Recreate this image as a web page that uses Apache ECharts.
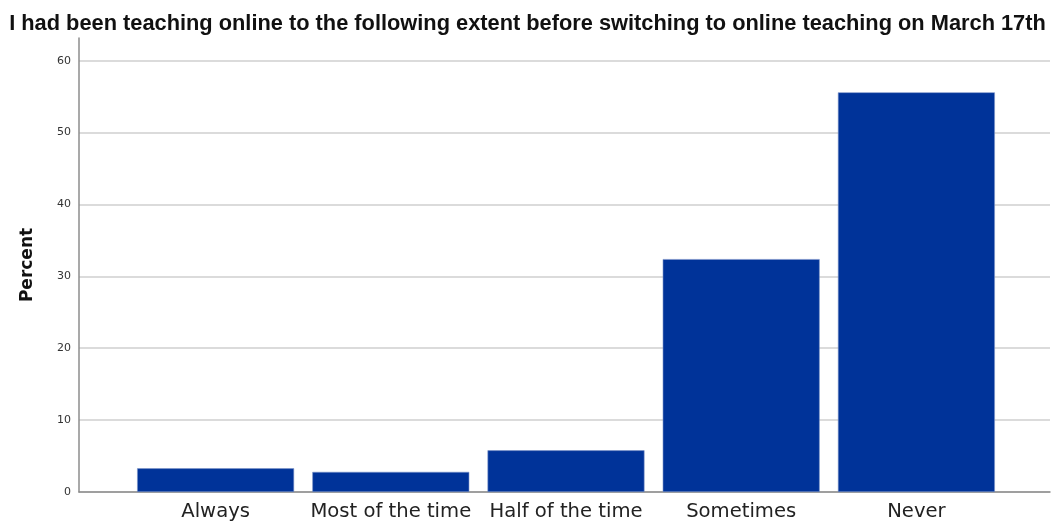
<!DOCTYPE html>
<html><head><meta charset="utf-8">
<script src="https://cdn.jsdelivr.net/npm/echarts@6/dist/echarts.min.js"></script>
<style>html,body{margin:0;padding:0;background:#fff}#c{width:1055px;height:522px}</style>
</head><body><div id="c"></div>
<script>
const titleText = 'I had been teaching online to the following extent before switching to online teaching on March 17th';
const categories = ['Always', 'Most of the time', 'Half of the time', 'Sometimes', 'Never'];
const percentValues = [3.3, 2.8, 5.8, 32.4, 55.6];
const yTicks = [0, 10, 20, 30, 40, 50, 60];

const chart = echarts.init(document.getElementById('c'));
chart.setOption({
  animation: false,
  backgroundColor: '#fff',
  title: {
    text: titleText, left: 'center', top: 8,
    textStyle: { fontFamily: 'Liberation Sans', fontWeight: 'bold', fontSize: 21.8, color: '#111' }
  },
  grid: [
    { left: 79, right: 5, top: 38, bottom: 30 },
    { left: 79, right: 5, top: 60.7, bottom: 30 },
    { left: 128, right: 51, top: 60.7, bottom: 30 }
  ],
  xAxis: [
    { gridIndex: 0, type: 'value', min: 0, max: 1, axisLine: { show: true, onZero: false, lineStyle: { color: '#8c8c8c', width: 1.5 } },
      axisTick: { show: false }, axisLabel: { show: false }, splitLine: { show: false } },
    { gridIndex: 1, type: 'value', min: 0, max: 1, show: false },
    { gridIndex: 2, type: 'category', data: categories, axisLine: { show: false }, axisTick: { show: false },
      axisLabel: { margin: 10, fontFamily: 'DejaVu Sans', fontSize: 19.6, color: '#222', interval: 0 } }
  ],
  yAxis: [
    { gridIndex: 0, type: 'value', min: 0, max: 63,
      axisLine: { show: true, lineStyle: { color: '#8c8c8c', width: 1.5 } }, axisTick: { show: false },
      axisLabel: { show: false }, splitLine: { show: false },
      name: 'Percent', nameLocation: 'middle', nameGap: 43,
      nameTextStyle: { fontFamily: 'DejaVu Sans', fontWeight: 'bold', fontSize: 17, color: '#111' } },
    { gridIndex: 1, type: 'value', min: yTicks[0], max: yTicks[yTicks.length - 1], interval: 10,
      axisLine: { show: false }, axisTick: { show: false },
      axisLabel: { margin: 8, fontFamily: 'DejaVu Sans', fontSize: 11, color: '#333' },
      splitLine: { show: true, lineStyle: { color: '#cfcfcf', width: 1.5 } } },
    { gridIndex: 2, type: 'value', min: yTicks[0], max: yTicks[yTicks.length - 1], show: false }
  ],
  series: [{
    type: 'bar', xAxisIndex: 2, yAxisIndex: 2, data: percentValues,
    barCategoryGap: '10.4%',
    itemStyle: { color: '#003399', borderColor: '#7d95c9', borderWidth: 0.6 }
  }]
});
</script></body></html>
